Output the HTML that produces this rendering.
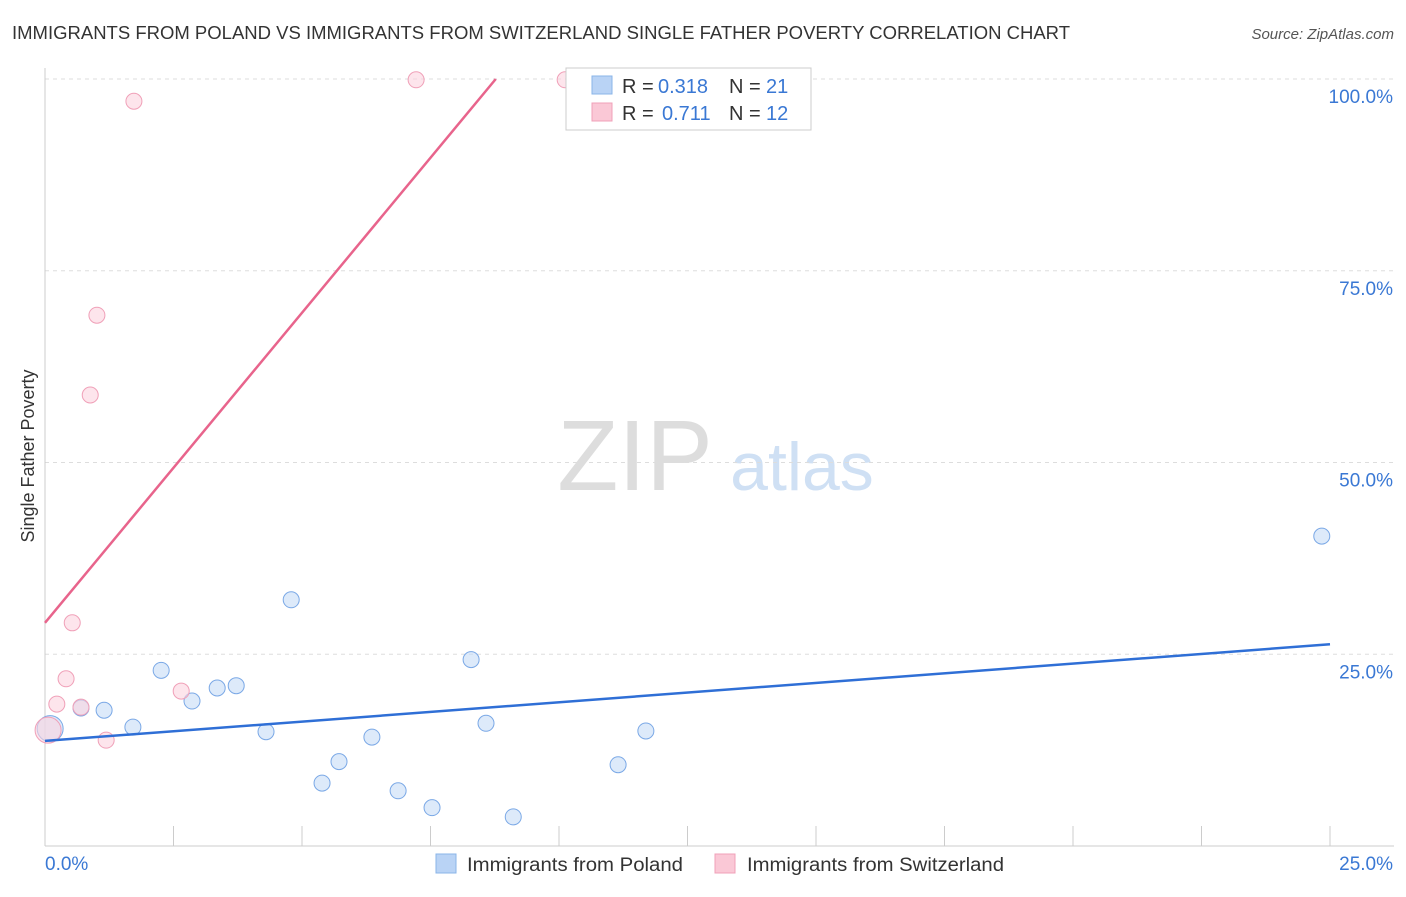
<!DOCTYPE html>
<html><head><meta charset="utf-8"><style>
body{margin:0;background:#fff;font-family:"Liberation Sans",sans-serif}
svg text{font-family:"Liberation Sans",sans-serif}
</style></head><body>
<svg id="c" width="1406" height="892" xmlns="http://www.w3.org/2000/svg">
<text x="12" y="39" font-size="18" fill="#333" textLength="1058" lengthAdjust="spacingAndGlyphs">IMMIGRANTS FROM POLAND VS IMMIGRANTS FROM SWITZERLAND SINGLE FATHER POVERTY CORRELATION CHART</text>
<text x="1394" y="39" font-size="15" fill="#555" font-style="italic" text-anchor="end">Source: ZipAtlas.com</text>
<text x="34" y="456" font-size="18" fill="#333" text-anchor="middle" transform="rotate(-90 34 456)">Single Father Poverty</text>
<text x="635" y="490" font-size="100" fill="#ddd" font-family="Liberation Serif" text-anchor="middle">ZIP</text>
<text x="802" y="490" font-size="68" fill="#cfe0f4" text-anchor="middle">atlas</text>
<g id="grid"></g><g id="marks"></g>
<g>
<rect x="566" y="68" width="245" height="62" fill="#fff" stroke="#ccc"/>
<rect x="592" y="76" width="20" height="18" fill="#b9d3f5" stroke="#8ab4e8"/>
<text x="622" y="93" font-size="20" fill="#333">R =</text>
<text x="658" y="93" font-size="20" fill="#3a78d4">0.318</text>
<text x="729" y="93" font-size="20" fill="#333">N =</text>
<text x="766" y="93" font-size="20" fill="#3a78d4">21</text>
<rect x="592" y="103" width="20" height="18" fill="#fac8d6" stroke="#f0a0b8"/>
<text x="622" y="120" font-size="20" fill="#333">R =</text>
<text x="662" y="120" font-size="20" fill="#3a78d4">0.711</text>
<text x="729" y="120" font-size="20" fill="#333">N =</text>
<text x="766" y="120" font-size="20" fill="#3a78d4">12</text>
</g>
<g>
<rect x="436" y="854" width="20" height="19" fill="#b9d3f5" stroke="#8ab4e8"/>
<text x="467" y="871" font-size="19" fill="#333" textLength="216" lengthAdjust="spacingAndGlyphs">Immigrants from Poland</text>
<rect x="715" y="854" width="20" height="19" fill="#fac8d6" stroke="#f0a0b8"/>
<text x="747" y="871" font-size="19" fill="#333" textLength="257" lengthAdjust="spacingAndGlyphs">Immigrants from Switzerland</text>
</g>
</svg>
<script>
const blueX=[0.10,0.70,1.15,1.71,2.26,2.86,3.35,3.72,4.30,4.79,5.39,5.72,6.36,6.87,7.53,8.29,8.58,9.11,11.15,11.69,24.84];
const blueY=[15.3,18.0,17.7,15.5,22.9,18.9,20.6,20.9,14.9,32.1,8.2,11.0,14.2,7.2,5.0,24.3,16.0,3.8,10.6,15.0,40.4];
const pinkX=[0.06,0.23,0.41,0.53,0.70,0.88,1.01,1.19,1.73,2.65,7.22,10.12];
const pinkY=[15.1,18.5,21.8,29.1,18.1,58.8,69.2,13.8,97.1,20.2,99.9,99.9];
const blueTrend=[13.7,26.3];
const pinkTrend=[29.1,100,8.77];
const yTicks=[25,50,75,100];
const xTickLabels=["0.0%","25.0%"];
const NS="http://www.w3.org/2000/svg";
const X=v=>45+v/25*1285, Y=v=>846-v/100*767;
function mk(p,t,a){const e=document.createElementNS(NS,t);for(const k in a)e.setAttribute(k,a[k]);p.appendChild(e);return e;}
const g=document.getElementById('grid'), m=document.getElementById('marks');
yTicks.forEach(t=>{
 const l=mk(g,'line',{x1:45,x2:1394,y1:Y(t),y2:Y(t),stroke:'#ddd','stroke-dasharray':'4,4'});
 
 
 const tx=mk(g,'text',{x:1393,y:Y(t)+24,'font-size':19,fill:'#3a78d4','text-anchor':'end'});
 tx.textContent=t.toFixed(1)+'%';
 
 
});
const ax=mk(g,'line',{x1:45,x2:1394,y1:846,y2:846,stroke:'#ccc'});


const ay=mk(g,'line',{x1:45,x2:45,y1:68,y2:846,stroke:'#ccc'});


for(let i=0;i<=10;i++){const tk=mk(g,'line',{x1:X(i*2.5),x2:X(i*2.5),y1:826,y2:846,stroke:'#ccc'});
 
 }
[[0,'start',45],[1,'end',1393]].forEach(([i,a,x])=>{const t=mk(g,'text',{x:x,y:870,'font-size':19,fill:'#3a78d4','text-anchor':a});t.textContent=xTickLabels[i];
 
 });
function dots(xs,ys,fill,stroke,name){xs.forEach((x,i)=>{const c=mk(m,'circle',{cx:X(x),cy:Y(ys[i]),r:i===0?13:8,fill:fill,'fill-opacity':0.6,stroke:stroke});
 
 });}
dots(blueX,blueY,'#c6dcf7','#7aa8e6','point-poland');
dots(pinkX,pinkY,'#fbd3df','#f0a0b8','point-switzerland');
const bl=mk(m,'line',{x1:X(0),y1:Y(blueTrend[0]),x2:X(25),y2:Y(blueTrend[1]),stroke:'#2f6fd6','stroke-width':2.5});


const pl=mk(m,'line',{x1:X(0),y1:Y(pinkTrend[0]),x2:X(pinkTrend[2]),y2:Y(pinkTrend[1]),stroke:'#e8648c','stroke-width':2.5});


</script>
</body></html>
